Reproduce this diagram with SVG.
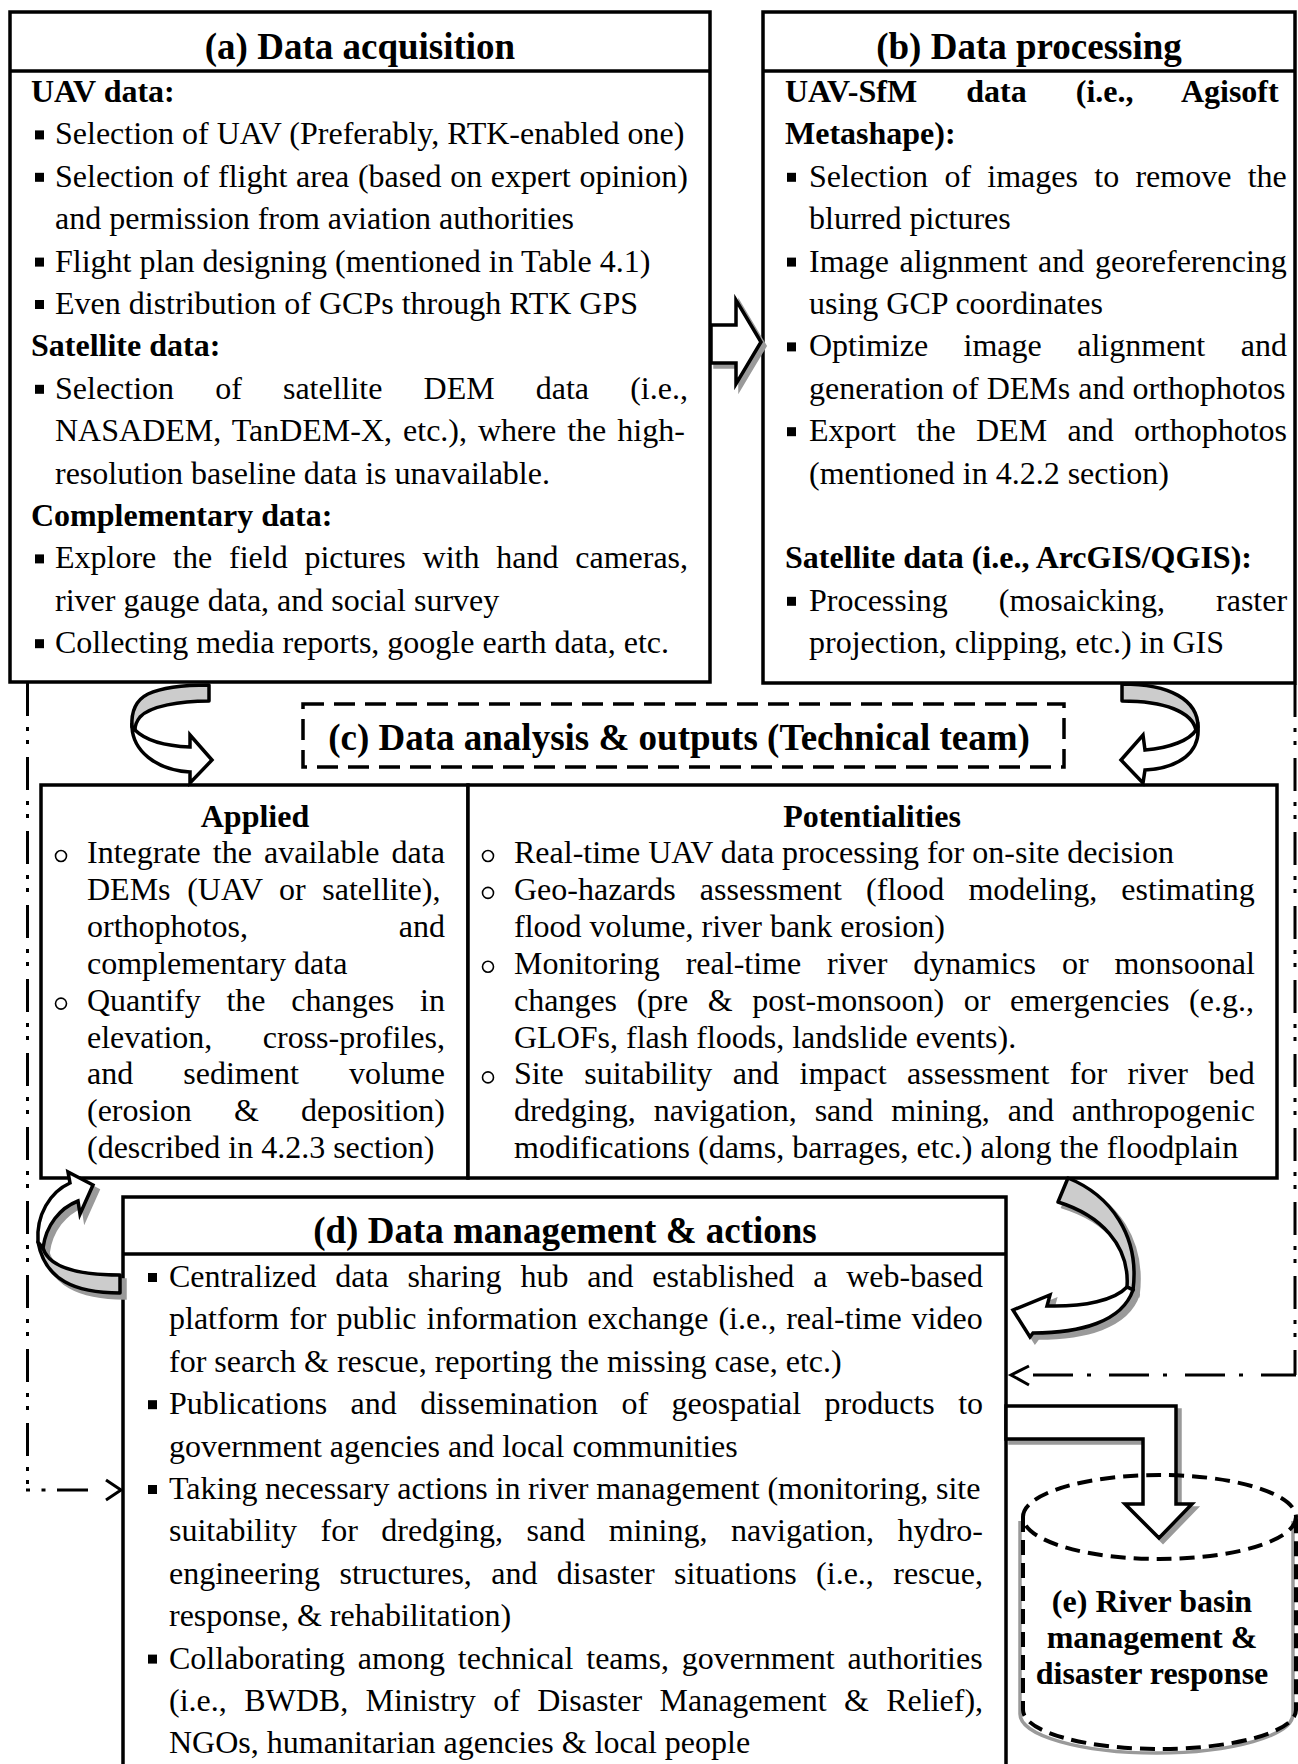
<svg xmlns="http://www.w3.org/2000/svg" xmlns:xlink="http://www.w3.org/1999/xlink" width="1298" height="1764" viewBox="0 0 1298 1764">
<style>
.t{font-family:"Liberation Serif","Times New Roman",serif;font-size:32px;fill:#000}
.b{font-weight:bold}
.ttl{font-family:"Liberation Serif","Times New Roman",serif;font-size:37px;font-weight:bold;text-anchor:middle;fill:#000}
.et{font-family:"Liberation Serif","Times New Roman",serif;font-size:32px;font-weight:bold;text-anchor:middle;fill:#000}
.box{fill:#fff;stroke:#000;stroke-width:3.5}
.ln{stroke:#000;stroke-width:3.5;fill:none}
.dbox{fill:#fff;stroke:#000;stroke-width:3.5;stroke-dasharray:21 10}
.arr{fill:#fff;stroke:#000;stroke-width:3.5;stroke-linejoin:miter}
.band{fill:#cccccc;stroke:#000;stroke-width:3.5;stroke-linejoin:round}
.sh{fill:#9a9a9a;stroke:#9a9a9a;stroke-width:3.5}
.dd{fill:none;stroke:#000;stroke-width:3;stroke-dasharray:33 11 4 9 4 13}
.dh{fill:none;stroke:#000;stroke-width:3;stroke-dasharray:40 14 4 18}
.seg{fill:none;stroke:#000;stroke-width:3}
.chev{fill:none;stroke:#000;stroke-width:3}
.cyl{fill:none;stroke:#000;stroke-width:4;stroke-dasharray:15 8}
.cylsh{fill:none;stroke:#9a9a9a;stroke-width:3.5}
</style>
<defs>
<rect id="sq" width="9" height="9" fill="#000"/>
<circle id="ci" r="5.5" fill="none" stroke="#000" stroke-width="1.6"/>
</defs>
<rect x="0" y="0" width="1298" height="1764" fill="#fff"/>

<g id="node-a">
<rect class="box" x="10" y="12" width="700" height="670"/>
<line class="ln" x1="10" y1="71" x2="710" y2="71"/>
<text class="ttl" x="360" y="59">(a) Data acquisition</text>
<text class="t b" x="31" y="102">UAV data:</text>
<use href="#sq" x="35" y="130.4"/>
<text class="t" x="55" y="144.4">Selection of UAV (Preferably, RTK-enabled one)</text>
<use href="#sq" x="35" y="172.8"/>
<text class="t" x="55" y="186.8" style="word-spacing:0.66px">Selection of flight area (based on expert opinion)</text>
<text class="t" x="55" y="229.2">and permission from aviation authorities</text>
<use href="#sq" x="35" y="257.6"/>
<text class="t" x="55" y="271.6">Flight plan designing (mentioned in Table 4.1)</text>
<use href="#sq" x="35" y="300"/>
<text class="t" x="55" y="314">Even distribution of GCPs through RTK GPS</text>
<text class="t b" x="31" y="356.4">Satellite data:</text>
<use href="#sq" x="35" y="384.8"/>
<text class="t" x="55" y="398.8" style="word-spacing:33.1px">Selection of satellite DEM data (i.e.,</text>
<text class="t" x="55" y="441.2" style="word-spacing:3px">NASADEM, TanDEM-X, etc.), where the high-</text>
<text class="t" x="55" y="483.6">resolution baseline data is unavailable.</text>
<text class="t b" x="31" y="526">Complementary data:</text>
<use href="#sq" x="35" y="554.4"/>
<text class="t" x="55" y="568.4" style="word-spacing:8.8px">Explore the field pictures with hand cameras,</text>
<text class="t" x="55" y="610.8">river gauge data, and social survey</text>
<use href="#sq" x="35" y="639.2"/>
<text class="t" x="55" y="653.2">Collecting media reports, google earth data, etc.</text>
</g>

<g id="node-b">
<rect class="box" x="763" y="12" width="532" height="671"/>
<line class="ln" x1="763" y1="71" x2="1295" y2="71"/>
<text class="ttl" x="1029" y="59">(b) Data processing</text>
<text class="t b" x="785" y="102" style="word-spacing:41.1px">UAV-SfM data (i.e., Agisoft</text>
<text class="t b" x="785" y="144.4">Metashape):</text>
<use href="#sq" x="787" y="172.8"/>
<text class="t" x="809" y="186.8" style="word-spacing:8.3px">Selection of images to remove the</text>
<text class="t" x="809" y="229.2">blurred pictures</text>
<use href="#sq" x="787" y="257.6"/>
<text class="t" x="809" y="271.6" style="word-spacing:2.6px">Image alignment and georeferencing</text>
<text class="t" x="809" y="314">using GCP coordinates</text>
<use href="#sq" x="787" y="342.4"/>
<text class="t" x="809" y="356.4" style="word-spacing:27.5px">Optimize image alignment and</text>
<text class="t" x="809" y="398.8">generation of DEMs and orthophotos</text>
<use href="#sq" x="787" y="427.2"/>
<text class="t" x="809" y="441.2" style="word-spacing:12.4px">Export the DEM and orthophotos</text>
<text class="t" x="809" y="483.6">(mentioned in 4.2.2 section)</text>
<text class="t b" x="785" y="568.4">Satellite data (i.e., ArcGIS/QGIS):</text>
<use href="#sq" x="787" y="596.8"/>
<text class="t" x="809" y="610.8" style="word-spacing:43.1px">Processing (mosaicking, raster</text>
<text class="t" x="809" y="653.2">projection, clipping, etc.) in GIS</text>
</g>

<g id="node-c-title">
<rect class="dbox" x="303" y="704" width="761" height="63"/>
<text class="ttl" x="679" y="750">(c) Data analysis &amp; outputs (Technical team)</text>
</g>

<g id="node-c-applied">
<rect class="box" x="41" y="785" width="427" height="393"/>
<text class="t b" x="255" y="827" text-anchor="middle">Applied</text>
<use href="#ci" x="61" y="856"/>
<text class="t" x="87" y="863" style="word-spacing:4.1px">Integrate the available data</text>
<text class="t" x="87" y="899.9" style="word-spacing:8.6px">DEMs (UAV or satellite),</text>
<text class="t" x="87" y="936.8" style="word-spacing:142.9px">orthophotos, and</text>
<text class="t" x="87" y="973.7">complementary data</text>
<use href="#ci" x="61" y="1003.6"/>
<text class="t" x="87" y="1010.6" style="word-spacing:17.7px">Quantify the changes in</text>
<text class="t" x="87" y="1047.5" style="word-spacing:42.5px">elevation, cross-profiles,</text>
<text class="t" x="87" y="1084.4" style="word-spacing:42.1px">and sediment volume</text>
<text class="t" x="87" y="1121.3" style="word-spacing:34.1px">(erosion &amp; deposition)</text>
<text class="t" x="87" y="1158.2">(described in 4.2.3 section)</text>
</g>

<g id="node-c-potential">
<rect class="box" x="468" y="785" width="809" height="393"/>
<text class="t b" x="872" y="827" text-anchor="middle">Potentialities</text>
<use href="#ci" x="488" y="856"/>
<text class="t" x="514" y="863">Real-time UAV data processing for on-site decision</text>
<use href="#ci" x="488" y="892.9"/>
<text class="t" x="514" y="899.9" style="word-spacing:16.1px">Geo-hazards assessment (flood modeling, estimating</text>
<text class="t" x="514" y="936.8">flood volume, river bank erosion)</text>
<use href="#ci" x="488" y="966.7"/>
<text class="t" x="514" y="973.7" style="word-spacing:17.9px">Monitoring real-time river dynamics or monsoonal</text>
<text class="t" x="514" y="1010.6" style="word-spacing:11.6px">changes (pre &amp; post-monsoon) or emergencies (e.g.,</text>
<text class="t" x="514" y="1047.5">GLOFs, flash floods, landslide events).</text>
<use href="#ci" x="488" y="1077.4"/>
<text class="t" x="514" y="1084.4" style="word-spacing:12.5px">Site suitability and impact assessment for river bed</text>
<text class="t" x="514" y="1121.3" style="word-spacing:9.9px">dredging, navigation, sand mining, and anthropogenic</text>
<text class="t" x="514" y="1158.2">modifications (dams, barrages, etc.) along the floodplain</text>
</g>

<g id="node-d">
<rect class="box" x="123" y="1197" width="883" height="580"/>
<line class="ln" x1="123" y1="1254" x2="1006" y2="1254"/>
<text class="ttl" x="565" y="1243">(d) Data management &amp; actions</text>
<use href="#sq" x="148" y="1273"/>
<text class="t" x="169" y="1287" style="word-spacing:10.8px">Centralized data sharing hub and established a web-based</text>
<text class="t" x="169" y="1329.4" style="word-spacing:2px">platform for public information exchange (i.e., real-time video</text>
<text class="t" x="169" y="1371.8">for search &amp; rescue, reporting the missing case, etc.)</text>
<use href="#sq" x="148" y="1400.2"/>
<text class="t" x="169" y="1414.2" style="word-spacing:15.4px">Publications and dissemination of geospatial products to</text>
<text class="t" x="169" y="1456.6">government agencies and local communities</text>
<use href="#sq" x="148" y="1485"/>
<text class="t" x="169" y="1499" style="word-spacing:-0.3px">Taking necessary actions in river management (monitoring, site</text>
<text class="t" x="169" y="1541.4" style="word-spacing:15.5px">suitability for dredging, sand mining, navigation, hydro-</text>
<text class="t" x="169" y="1583.8" style="word-spacing:11.4px">engineering structures, and disaster situations (i.e., rescue,</text>
<text class="t" x="169" y="1626.2">response, &amp; rehabilitation)</text>
<use href="#sq" x="148" y="1654.6"/>
<text class="t" x="169" y="1668.6" style="word-spacing:4.9px">Collaborating among technical teams, government authorities</text>
<text class="t" x="169" y="1711" style="word-spacing:9.4px">(i.e., BWDB, Ministry of Disaster Management &amp; Relief),</text>
<text class="t" x="169" y="1753.4">NGOs, humanitarian agencies &amp; local people</text>
</g>

<g id="connectors">
<!-- a -> b block arrow -->
<polygon class="sh" transform="translate(4,4)" points="711,325 736,325 736,300 761,342 736,384 736,363 711,363"/>
<polygon class="arr" points="711,325 736,325 736,300 761,342 736,384 736,363 711,363"/>
<!-- a -> applied curved arrow -->
<path class="band" d="M209,685 L209,701 C180,701 150,706 140,717 C136,722 135,727 135,730 L132,727 C131,712 136,700 148,694 C165,686 190,685 209,685 Z"/>
<path class="arr" d="M132,727 C133,750 155,770 190,772 L190,783 L212,760 L190,735 L190,747 C165,746 145,740 135,730 Z"/>
<!-- b -> potentialities curved arrow -->
<path class="band" d="M1122,684 L1122,701 C1165,701 1192,712 1196,730 L1198,727 C1198,700 1170,684 1122,684 Z"/>
<path class="arr" d="M1198,727 C1200,752 1180,768 1145,770 L1143,783 L1121,760 L1143,735 L1145,750 C1170,748 1190,740 1196,730 Z"/>
<!-- d -> applied curved arrow (left) -->
<g transform="translate(5,5)">
<path class="sh" d="M43,1248 C48,1265 70,1275 120,1275 L120,1293 C75,1293 45,1280 38,1242 Z"/>
<path class="sh" d="M38,1242 C36,1215 50,1192 70,1183 L68,1172 L93,1185 L80,1214 L78,1201 C60,1208 46,1225 43,1248 Z"/>
</g>
<path class="band" d="M43,1248 C48,1265 70,1275 120,1275 L120,1293 C75,1293 45,1280 38,1242 Z"/>
<path class="arr" d="M38,1242 C36,1215 50,1192 70,1183 L68,1172 L93,1185 L80,1214 L78,1201 C60,1208 46,1225 43,1248 Z"/>
<!-- potentialities -> d curved arrow (right) -->
<g transform="translate(5,5)">
<path class="sh" d="M1068,1178 C1110,1195 1140,1235 1133,1290 L1127,1287 C1130,1245 1100,1215 1058,1202 Z"/>
<path class="sh" d="M1133,1290 C1122,1322 1080,1333 1033,1333 L1030,1337 L1013,1310 L1050,1295 L1047,1306 C1085,1307 1115,1300 1127,1287 Z"/>
</g>
<path class="band" d="M1068,1178 C1110,1195 1140,1235 1133,1290 L1127,1287 C1130,1245 1100,1215 1058,1202 Z"/>
<path class="arr" d="M1133,1290 C1122,1322 1080,1333 1033,1333 L1030,1337 L1013,1310 L1050,1295 L1047,1306 C1085,1307 1115,1300 1127,1287 Z"/>
<!-- feedback dash-dot lines: left (d back to start) -->
<path class="dd" d="M27.5,683 V1490"/>
<path class="seg" d="M26,1490 H30 M41.5,1490 H45.5 M57,1490 H88"/>
<polyline class="chev" points="106,1480 121,1490 106,1500"/>
<!-- right -->
<path class="dd" d="M1295,684 V1375"/>
<path class="dh" d="M1033,1375 H1296"/>
<polyline class="chev" points="1029,1366 1011,1375 1029,1385"/>
<!-- d -> e bent arrow -->
<polygon class="sh" transform="translate(4,4)" points="1006,1406 1176,1406 1176,1504 1192,1504 1159,1538 1125,1504 1143,1504 1143,1439 1006,1439"/>
<polygon class="arr" points="1006,1406 1176,1406 1176,1504 1192,1504 1159,1538 1125,1504 1143,1504 1143,1439 1006,1439"/>
</g>

<g id="node-e">
<path class="cylsh" transform="translate(-3,4)" d="M1023,1517 V1710 A136.5,39 0 0 0 1296,1710 V1517"/>
<ellipse class="cyl" cx="1159.5" cy="1517" rx="136.5" ry="42"/>
<path class="cyl" d="M1023,1517 V1710 A136.5,39 0 0 0 1296,1710 V1517"/>
<text class="et" x="1152" y="1612">(e) River basin</text>
<text class="et" x="1152" y="1648">management &amp;</text>
<text class="et" x="1152" y="1684">disaster response</text>
</g>
</svg>
